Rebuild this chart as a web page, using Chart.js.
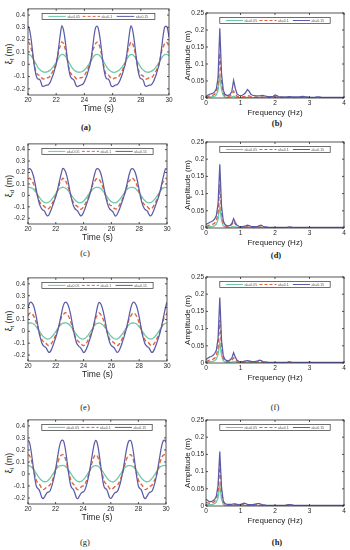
<!DOCTYPE html>
<html>
<head>
<meta charset="utf-8">
<script src="https://cdn.jsdelivr.net/npm/chart.js@4.4.1/dist/chart.umd.min.js"></script>
<style>
html,body{margin:0;padding:0;background:#fff;}
body{width:350px;height:550px;position:relative;overflow:hidden;}
canvas{position:absolute;}
.lab{position:absolute;font-family:"Liberation Serif","Times New Roman",serif;font-size:8.5px;color:#1a1a1a;transform:translate(-50%,-50%);white-space:nowrap;line-height:1;}
.lab.b{font-weight:bold;}
.yt{position:absolute;font-family:"Liberation Sans",Arial,sans-serif;font-size:8.5px;color:#1a1a1a;transform:translate(-50%,-50%) rotate(-90deg);white-space:nowrap;line-height:1;}
.yt sub{font-size:6px;vertical-align:-1.5px;}
</style>
</head>
<body>
<div class="yt" style="left:10px;top:54px">ξ<sub>f</sub> (m)</div>
<div class="yt" style="left:10px;top:186px">ξ<sub>d</sub> (m)</div>
<div class="yt" style="left:10px;top:321px">ξ<sub>t</sub> (m)</div>
<div class="yt" style="left:10px;top:463px">ξ<sub>l</sub> (m)</div>
<div class="lab b" style="left:86px;top:127px">(a)</div>
<div class="lab b" style="left:277px;top:123px">(b)</div>
<div class="lab" style="left:85px;top:253px">(c)</div>
<div class="lab b" style="left:276px;top:255px">(d)</div>
<div class="lab" style="left:85px;top:407px">(e)</div>
<div class="lab" style="left:275px;top:407px">(f)</div>
<div class="lab" style="left:85px;top:542px">(g)</div>
<div class="lab b" style="left:277px;top:542px">(h)</div>
<script>
// ---------- data ----------
const seriesLabels = ['ak=0.05', 'ak=0.1', 'ak=0.15'];

const timeS = [20,20.1,20.2,20.3,20.4,20.5,20.6,20.7,20.8,20.9,
21,21.1,21.2,21.3,21.4,21.5,21.6,21.7,21.8,21.9,
22,22.1,22.2,22.3,22.4,22.5,22.6,22.7,22.8,22.9,
23,23.1,23.2,23.3,23.4,23.5,23.6,23.7,23.8,23.9,
24,24.1,24.2,24.3,24.4,24.5,24.6,24.7,24.8,24.9,
25,25.1,25.2,25.3,25.4,25.5,25.6,25.7,25.8,25.9,
26,26.1,26.2,26.3,26.4,26.5,26.6,26.7,26.8,26.9,
27,27.1,27.2,27.3,27.4,27.5,27.6,27.7,27.8,27.9,
28,28.1,28.2,28.3,28.4,28.5,28.6,28.7,28.8,28.9,
29,29.1,29.2,29.3,29.4,29.5,29.6,29.7,29.8,29.9,
30];

const freqHz = [0,0.05,0.1,0.15,0.2,0.25,0.3,0.35,0.4,0.45,
0.5,0.55,0.6,0.65,0.7,0.75,0.8,0.85,0.9,0.95,
1,1.05,1.1,1.15,1.2,1.25,1.3,1.35,1.4,1.45,
1.5,1.55,1.6,1.65,1.7,1.75,1.8,1.85,1.9,1.95,
2,2.05,2.1,2.15,2.2,2.25,2.3,2.35,2.4,2.45,
2.5,2.55,2.6,2.65,2.7,2.75,2.8,2.85,2.9,2.95,
3,3.05,3.1,3.15,3.2,3.25,3.3,3.35,3.4,3.45,
3.5,3.55,3.6,3.65,3.7,3.75,3.8,3.85,3.9,3.95,
4];

const timeTicks = [20,22,24,26,28,30];
const timeTickLabels = ['20','22','24','26','28','30'];
const etaTicks = [-0.2,-0.1,0,0.1,0.2,0.3,0.4];
const etaTickLabels = ['-0.2','-0.1','0','0.1','0.2','0.3','0.4'];
const freqTicks = [0,1,2,3,4];
const freqTickLabels = ['0','1','2','3','4'];
const ampTicks = [0,0.05,0.1,0.15,0.2,0.25];
const ampTickLabels = ['0','0.05','0.1','0.15','0.2','0.25'];

// (a) time series
const a_green = [0.08,0.078,0.07,0.055,0.035,0.015,-0.005,-0.025,-0.04,-0.05,-0.058,-0.063,-0.065,-0.064,-0.06,-0.054,-0.045,-0.033,-0.018,-0.002,0.015,0.037,0.058,0.073,
0.081,0.079,0.071,0.056,0.036,0.016,-0.004,-0.024,-0.039,-0.05,-0.058,-0.063,-0.065,-0.064,-0.061,-0.055,-0.046,-0.034,-0.019,-0.003,0.014,0.034,0.054,0.069,0.078,
0.08,0.077,0.069,0.054,0.034,0.014,-0.006,-0.026,-0.041,-0.051,-0.059,-0.064,-0.066,-0.064,-0.06,-0.053,-0.044,-0.032,-0.017,-0.001,0.016,0.038,0.058,0.073,
0.08,0.078,0.07,0.055,0.035,0.015,-0.005,-0.025,-0.04,-0.05,-0.058,-0.063,-0.065,-0.064,-0.06,-0.054,-0.045,-0.033,-0.018,-0.002,0.015,0.035,0.055,0.07,0.078,
0.08,0.078,0.07];
const a_orange = [0.18,0.17,0.14,0.09,0.03,-0.03,-0.07,-0.085,-0.09,-0.1,-0.115,-0.12,-0.115,-0.11,-0.11,-0.105,-0.09,-0.07,-0.05,-0.02,0.01,0.06,0.12,0.15,
0.182,0.171,0.142,0.092,0.032,-0.028,-0.068,-0.084,-0.091,-0.099,-0.114,-0.121,-0.116,-0.111,-0.109,-0.104,-0.091,-0.072,-0.052,-0.022,0.007,0.055,0.115,0.143,0.17,
0.18,0.169,0.139,0.089,0.029,-0.031,-0.071,-0.086,-0.089,-0.101,-0.116,-0.12,-0.114,-0.11,-0.111,-0.104,-0.089,-0.069,-0.048,-0.018,0.012,0.062,0.122,0.152,
0.181,0.171,0.141,0.091,0.031,-0.029,-0.069,-0.085,-0.09,-0.1,-0.115,-0.12,-0.116,-0.11,-0.11,-0.105,-0.09,-0.071,-0.051,-0.021,0.008,0.058,0.118,0.144,0.171,
0.18,0.17,0.141];
const a_purple = [0.31,0.285,0.22,0.13,0.03,-0.05,-0.1,-0.12,-0.12,-0.14,-0.175,-0.18,-0.175,-0.17,-0.17,-0.16,-0.14,-0.11,-0.08,-0.04,0,0.07,0.16,0.25,
0.312,0.288,0.224,0.134,0.034,-0.046,-0.096,-0.116,-0.122,-0.138,-0.172,-0.181,-0.177,-0.171,-0.167,-0.161,-0.143,-0.114,-0.083,-0.043,-0.004,0.062,0.152,0.242,0.3,
0.31,0.284,0.218,0.128,0.028,-0.052,-0.101,-0.119,-0.121,-0.142,-0.176,-0.182,-0.176,-0.169,-0.168,-0.158,-0.137,-0.107,-0.077,-0.037,0.004,0.074,0.164,0.254,
0.311,0.287,0.222,0.132,0.032,-0.048,-0.098,-0.118,-0.12,-0.139,-0.174,-0.18,-0.176,-0.17,-0.169,-0.16,-0.141,-0.112,-0.081,-0.041,-0.002,0.066,0.156,0.246,0.302,
0.31,0.286,0.221];

// (c) time series
const c_green = [0.07,
0.07,0.068,0.062,0.052,0.038,0.022,0.004,-0.014,-0.03,-0.044,-0.055,-0.062,-0.065,-0.064,-0.058,-0.048,-0.035,-0.019,-0.002,0.016,0.034,0.05,0.062,0.068,
0.071,0.069,0.063,0.053,0.039,0.023,0.005,-0.013,-0.029,-0.043,-0.054,-0.061,-0.065,-0.064,-0.059,-0.049,-0.036,-0.02,-0.003,0.015,0.032,0.047,0.059,0.066,0.07,
0.07,0.068,0.062,0.052,0.038,0.022,0.004,-0.014,-0.03,-0.044,-0.055,-0.062,-0.066,-0.065,-0.059,-0.048,-0.035,-0.019,-0.002,0.016,0.033,0.048,0.06,0.067,0.07,
0.07,0.068,0.062,0.052,0.038,0.022,0.004,-0.014,-0.03,-0.044,-0.055,-0.062,-0.065,-0.064,-0.058,-0.048,-0.035,-0.019,-0.002,0.016,0.034,0.05,0.062,0.068,
0.07,0.068];
const c_orange = [0.145,
0.15,0.142,0.125,0.1,0.068,0.03,-0.01,-0.045,-0.07,-0.085,-0.09,-0.1,-0.115,-0.12,-0.115,-0.1,-0.08,-0.055,-0.03,0,0.03,0.07,0.115,0.128,
0.151,0.143,0.126,0.101,0.069,0.031,-0.009,-0.044,-0.069,-0.084,-0.091,-0.101,-0.116,-0.121,-0.114,-0.099,-0.079,-0.054,-0.029,0.001,0.029,0.067,0.114,0.124,0.144,
0.149,0.141,0.124,0.099,0.067,0.029,-0.011,-0.046,-0.071,-0.086,-0.089,-0.099,-0.114,-0.119,-0.116,-0.101,-0.081,-0.056,-0.031,-0.001,0.031,0.069,0.116,0.126,0.146,
0.15,0.142,0.125,0.1,0.068,0.03,-0.01,-0.045,-0.07,-0.085,-0.09,-0.1,-0.115,-0.12,-0.115,-0.1,-0.08,-0.055,-0.03,0,0.03,0.07,0.115,0.128,
0.15,0.142];
const c_purple = [0.225,
0.235,0.228,0.205,0.165,0.11,0.045,-0.015,-0.065,-0.1,-0.12,-0.13,-0.14,-0.165,-0.18,-0.17,-0.145,-0.115,-0.08,-0.045,-0.01,0.035,0.09,0.145,0.195,
0.236,0.229,0.206,0.166,0.112,0.047,-0.013,-0.063,-0.099,-0.119,-0.129,-0.141,-0.164,-0.179,-0.171,-0.146,-0.116,-0.081,-0.046,-0.011,0.034,0.084,0.139,0.189,0.226,
0.234,0.227,0.204,0.164,0.109,0.044,-0.016,-0.066,-0.101,-0.121,-0.131,-0.142,-0.166,-0.181,-0.169,-0.144,-0.114,-0.079,-0.044,-0.009,0.036,0.086,0.141,0.191,0.226,
0.235,0.228,0.205,0.165,0.11,0.045,-0.015,-0.065,-0.1,-0.12,-0.13,-0.14,-0.165,-0.18,-0.17,-0.145,-0.115,-0.08,-0.045,-0.01,0.035,0.09,0.145,0.195,
0.235,0.228];

// (e) time series
const e_green = [0.067,0.07,
0.07,0.068,0.062,0.052,0.038,0.022,0.004,-0.014,-0.03,-0.044,-0.055,-0.062,-0.065,-0.064,-0.058,-0.048,-0.035,-0.019,-0.002,0.016,0.033,0.048,0.06,0.067,0.07,
0.071,0.069,0.063,0.053,0.039,0.023,0.005,-0.013,-0.029,-0.043,-0.054,-0.061,-0.065,-0.064,-0.059,-0.049,-0.036,-0.02,-0.003,0.015,0.034,0.05,0.062,0.068,
0.07,0.068,0.062,0.052,0.038,0.022,0.004,-0.014,-0.03,-0.044,-0.055,-0.062,-0.066,-0.065,-0.059,-0.048,-0.035,-0.019,-0.002,0.016,0.033,0.048,0.06,0.067,0.07,
0.07,0.068,0.062,0.052,0.038,0.022,0.004,-0.014,-0.03,-0.044,-0.055,-0.062,-0.065,-0.064,-0.058,-0.048,-0.035,-0.019,-0.002,0.016,0.034,0.05,0.062,0.068,
0.07];
const e_orange = [0.13,0.15,
0.155,0.147,0.13,0.104,0.07,0.031,-0.009,-0.044,-0.07,-0.085,-0.09,-0.1,-0.115,-0.12,-0.115,-0.1,-0.08,-0.055,-0.03,0,0.03,0.07,0.118,0.13,0.15,
0.156,0.148,0.131,0.105,0.071,0.032,-0.008,-0.043,-0.069,-0.084,-0.091,-0.101,-0.116,-0.121,-0.114,-0.099,-0.079,-0.054,-0.029,0.001,0.032,0.074,0.12,0.133,
0.154,0.146,0.129,0.103,0.069,0.03,-0.01,-0.045,-0.071,-0.086,-0.089,-0.099,-0.114,-0.119,-0.116,-0.101,-0.081,-0.056,-0.031,-0.001,0.029,0.069,0.117,0.129,0.149,
0.155,0.147,0.13,0.104,0.07,0.031,-0.009,-0.044,-0.07,-0.085,-0.09,-0.1,-0.115,-0.12,-0.115,-0.1,-0.08,-0.055,-0.03,0,0.032,0.073,0.12,0.132,
0.155];
const e_purple = [0.2,0.235,
0.245,0.238,0.215,0.175,0.12,0.055,-0.01,-0.06,-0.1,-0.12,-0.13,-0.14,-0.16,-0.178,-0.172,-0.15,-0.12,-0.085,-0.05,-0.01,0.035,0.09,0.145,0.2,0.235,
0.246,0.239,0.216,0.176,0.121,0.056,-0.009,-0.059,-0.099,-0.119,-0.131,-0.141,-0.161,-0.179,-0.171,-0.149,-0.119,-0.084,-0.049,-0.009,0.038,0.095,0.152,0.207,
0.244,0.237,0.214,0.174,0.119,0.054,-0.011,-0.061,-0.101,-0.121,-0.129,-0.139,-0.159,-0.177,-0.173,-0.151,-0.121,-0.086,-0.051,-0.011,0.034,0.089,0.144,0.199,0.234,
0.245,0.238,0.215,0.175,0.12,0.055,-0.01,-0.06,-0.1,-0.12,-0.13,-0.14,-0.16,-0.178,-0.172,-0.15,-0.12,-0.085,-0.05,-0.01,0.037,0.094,0.15,0.205,
0.245];

// (g) time series
const g_green = [0.07,0.068,0.062,0.052,0.038,0.022,0.004,-0.014,-0.03,-0.044,-0.055,-0.062,-0.065,-0.064,-0.058,-0.048,-0.035,-0.019,-0.002,0.016,0.033,0.048,0.06,0.067,0.07,
0.071,0.069,0.063,0.053,0.039,0.023,0.005,-0.013,-0.029,-0.043,-0.054,-0.061,-0.065,-0.064,-0.059,-0.049,-0.036,-0.02,-0.003,0.015,0.034,0.05,0.062,0.068,
0.07,0.068,0.062,0.052,0.038,0.022,0.004,-0.014,-0.03,-0.044,-0.055,-0.062,-0.066,-0.065,-0.059,-0.048,-0.035,-0.019,-0.002,0.016,0.033,0.048,0.06,0.067,0.07,
0.07,0.068,0.062,0.052,0.038,0.022,0.004,-0.014,-0.03,-0.044,-0.055,-0.062,-0.065,-0.064,-0.058,-0.048,-0.035,-0.019,-0.002,0.016,0.033,0.048,0.06,0.067,0.07,
0.071,0.069];
const g_orange = [0.16,0.155,0.13,0.09,0.04,-0.01,-0.05,-0.075,-0.085,-0.1,-0.12,-0.13,-0.125,-0.115,-0.105,-0.1,-0.09,-0.07,-0.045,-0.01,0.03,0.07,0.11,0.14,0.155,
0.161,0.156,0.131,0.091,0.041,-0.009,-0.049,-0.074,-0.086,-0.101,-0.121,-0.131,-0.124,-0.114,-0.104,-0.099,-0.088,-0.067,-0.04,-0.004,0.037,0.078,0.118,0.146,
0.159,0.154,0.129,0.089,0.039,-0.011,-0.051,-0.076,-0.084,-0.099,-0.119,-0.129,-0.126,-0.116,-0.106,-0.101,-0.091,-0.071,-0.046,-0.011,0.029,0.069,0.109,0.139,0.154,
0.16,0.155,0.13,0.09,0.04,-0.01,-0.05,-0.075,-0.085,-0.1,-0.12,-0.13,-0.125,-0.115,-0.105,-0.1,-0.09,-0.07,-0.045,-0.01,0.03,0.07,0.11,0.14,0.155,
0.16,0.155];
const g_purple = [0.28,0.265,0.21,0.13,0.04,-0.04,-0.1,-0.12,-0.13,-0.16,-0.195,-0.205,-0.19,-0.17,-0.155,-0.15,-0.14,-0.11,-0.07,-0.02,0.04,0.11,0.18,0.24,0.275,
0.282,0.267,0.212,0.132,0.042,-0.038,-0.098,-0.119,-0.131,-0.161,-0.196,-0.206,-0.189,-0.169,-0.154,-0.149,-0.138,-0.107,-0.066,-0.014,0.048,0.12,0.19,0.248,
0.279,0.264,0.209,0.129,0.039,-0.041,-0.101,-0.121,-0.129,-0.159,-0.194,-0.204,-0.191,-0.171,-0.156,-0.151,-0.141,-0.111,-0.071,-0.021,0.039,0.109,0.179,0.239,0.274,
0.28,0.265,0.21,0.13,0.04,-0.04,-0.1,-0.12,-0.13,-0.16,-0.195,-0.205,-0.19,-0.17,-0.155,-0.15,-0.14,-0.11,-0.07,-0.02,0.04,0.11,0.18,0.24,0.275,
0.281,0.266];

// (b) spectra
const b_green = [0.001,0.002,0.003,0.003,0.004,0.005,0.009,0.022,0.065,0.024,
0.007,0.003,0.002,0.002,0.002,0.003,0.005,0.003,0.002,0.001,
0.001,0.001,0.001,0.002,0.002,0.002,0.001,0.001,0.001,0.001,
0.001,0.001,0.001,0.001,0.001,0.001,0.001,0.001,0.001,0.001,
0.001,0.001,0.001,0.001,0.001,0.001,0.001,0.001,0.001,0.001,
0.001,0.001,0.001,0.001,0.001,0.001,0.001,0.001,0.001,0.001,
0.001,0.001,0.001,0.001,0.001,0.001,0.001,0.001,0.001,0.001,
0.001,0.001,0.001,0.001,0.001,0.001,0.001,0.001,0.001,0.001,
0.001];
const b_orange = [0.002,0.004,0.006,0.007,0.008,0.011,0.017,0.04,0.132,0.05,
0.014,0.006,0.004,0.004,0.006,0.01,0.02,0.012,0.005,0.003,
0.003,0.003,0.004,0.005,0.007,0.006,0.004,0.003,0.002,0.002,
0.002,0.002,0.003,0.003,0.002,0.002,0.002,0.002,0.002,0.002,
0.003,0.003,0.002,0.002,0.001,0.001,0.001,0.001,0.002,0.002,
0.001,0.001,0.001,0.001,0.001,0.001,0.002,0.001,0.001,0.001,
0.001,0.001,0.001,0.001,0.001,0.001,0.001,0.001,0.001,0.001,
0.001,0.001,0.001,0.001,0.001,0.001,0.001,0.001,0.001,0.001,
0.001];
const b_purple = [0.004,0.008,0.011,0.012,0.014,0.018,0.027,0.06,0.205,0.072,
0.023,0.011,0.008,0.008,0.011,0.02,0.052,0.028,0.012,0.008,
0.007,0.008,0.011,0.016,0.025,0.02,0.011,0.008,0.007,0.006,
0.006,0.006,0.007,0.008,0.006,0.005,0.004,0.004,0.004,0.005,
0.009,0.007,0.004,0.003,0.003,0.003,0.003,0.003,0.004,0.004,
0.003,0.003,0.003,0.003,0.003,0.004,0.005,0.004,0.003,0.003,
0.002,0.002,0.002,0.002,0.003,0.003,0.003,0.002,0.002,0.002,
0.002,0.002,0.002,0.002,0.002,0.002,0.002,0.002,0.002,0.002,
0.002];

// (d) spectra
const d_green = [0.002,0.003,0.004,0.004,0.005,0.007,0.011,0.025,0.062,0.022,
0.006,0.003,0.002,0.002,0.002,0.003,0.004,0.003,0.002,0.001,
0.001,0.001,0.001,0.001,0.002,0.001,0.001,0.001,0.001,0.001,
0.001,0.001,0.001,0.001,0.001,0.001,0.001,0.001,0.001,0.001,
0.001,0.001,0.001,0.001,0.001,0.001,0.001,0.001,0.001,0.001,
0.001,0.001,0.001,0.001,0.001,0.001,0.001,0.001,0.001,0.001,
0.001,0.001,0.001,0.001,0.001,0.001,0.001,0.001,0.001,0.001,
0.001,0.001,0.001,0.001,0.001,0.001,0.001,0.001,0.001,0.001,
0.001];
const d_orange = [0.004,0.006,0.008,0.009,0.011,0.014,0.02,0.045,0.127,0.044,
0.013,0.006,0.004,0.004,0.006,0.01,0.02,0.011,0.005,0.003,
0.002,0.002,0.003,0.003,0.004,0.004,0.003,0.002,0.002,0.002,
0.002,0.003,0.003,0.002,0.002,0.001,0.001,0.001,0.001,0.001,
0.001,0.001,0.001,0.001,0.001,0.001,0.001,0.001,0.002,0.001,
0.001,0.001,0.001,0.001,0.001,0.001,0.001,0.001,0.001,0.001,
0.001,0.001,0.001,0.001,0.001,0.001,0.001,0.001,0.001,0.001,
0.001,0.001,0.001,0.001,0.001,0.001,0.001,0.001,0.001,0.001,
0.001];
const d_purple = [0.01,0.013,0.016,0.018,0.021,0.026,0.036,0.07,0.185,0.064,
0.021,0.01,0.007,0.006,0.008,0.013,0.027,0.016,0.008,0.005,
0.004,0.004,0.005,0.006,0.008,0.007,0.005,0.004,0.004,0.004,
0.005,0.007,0.008,0.005,0.003,0.003,0.002,0.002,0.002,0.002,
0.002,0.002,0.002,0.002,0.002,0.002,0.002,0.002,0.003,0.003,
0.002,0.002,0.002,0.002,0.002,0.002,0.002,0.002,0.002,0.002,
0.002,0.002,0.002,0.002,0.002,0.002,0.002,0.002,0.002,0.002,
0.002,0.002,0.002,0.002,0.002,0.002,0.002,0.002,0.002,0.002,
0.002];

// (f) spectra
const f_green = [0.002,0.003,0.004,0.004,0.005,0.007,0.011,0.025,0.06,0.022,
0.006,0.003,0.002,0.002,0.002,0.003,0.004,0.003,0.002,0.001,
0.001,0.001,0.001,0.001,0.002,0.001,0.001,0.001,0.001,0.001,
0.001,0.002,0.001,0.001,0.001,0.001,0.001,0.001,0.001,0.001,
0.001,0.001,0.001,0.001,0.001,0.001,0.001,0.001,0.001,0.001,
0.001,0.001,0.001,0.001,0.001,0.001,0.001,0.001,0.001,0.001,
0.001,0.001,0.001,0.001,0.001,0.001,0.001,0.001,0.001,0.001,
0.001,0.001,0.001,0.001,0.001,0.001,0.001,0.001,0.001,0.001,
0.001];
const f_orange = [0.004,0.006,0.008,0.009,0.011,0.014,0.02,0.045,0.125,0.044,
0.013,0.006,0.004,0.004,0.005,0.008,0.015,0.009,0.004,0.003,
0.002,0.002,0.003,0.003,0.004,0.004,0.003,0.002,0.002,0.002,
0.003,0.004,0.003,0.002,0.001,0.001,0.001,0.001,0.001,0.001,
0.001,0.001,0.001,0.001,0.001,0.001,0.001,0.001,0.002,0.001,
0.001,0.001,0.001,0.001,0.001,0.001,0.001,0.001,0.001,0.001,
0.001,0.001,0.001,0.001,0.001,0.001,0.001,0.001,0.001,0.001,
0.001,0.001,0.001,0.001,0.001,0.001,0.001,0.001,0.001,0.001,
0.001];
const f_purple = [0.01,0.014,0.017,0.019,0.022,0.027,0.037,0.072,0.19,0.066,
0.021,0.01,0.007,0.007,0.009,0.015,0.03,0.017,0.008,0.005,
0.004,0.004,0.005,0.006,0.007,0.006,0.005,0.004,0.004,0.005,
0.006,0.008,0.007,0.004,0.003,0.003,0.002,0.002,0.002,0.002,
0.002,0.002,0.002,0.002,0.002,0.002,0.002,0.002,0.003,0.003,
0.002,0.002,0.002,0.002,0.002,0.002,0.002,0.002,0.002,0.002,
0.003,0.002,0.002,0.002,0.002,0.002,0.002,0.002,0.002,0.002,
0.002,0.002,0.002,0.002,0.002,0.002,0.002,0.002,0.002,0.002,
0.002];

// (h) spectra
const h_green = [0.004,0.004,0.004,0.004,0.005,0.007,0.011,0.024,0.06,0.02,
0.005,0.002,0.001,0.001,0.001,0.001,0.002,0.002,0.001,0.001,
0.001,0.001,0.002,0.001,0.001,0.001,0.001,0.001,0.001,0.001,
0.001,0.002,0.001,0.001,0.001,0.001,0.001,0.001,0.001,0.001,
0.001,0.001,0.001,0.001,0.001,0.001,0.001,0.001,0.001,0.001,
0.001,0.001,0.001,0.001,0.001,0.001,0.001,0.001,0.001,0.001,
0.001,0.001,0.001,0.001,0.001,0.001,0.001,0.001,0.001,0.001,
0.001,0.001,0.001,0.001,0.001,0.001,0.001,0.001,0.001,0.001,
0.001];
const h_orange = [0.01,0.009,0.008,0.008,0.01,0.013,0.02,0.043,0.122,0.039,
0.011,0.005,0.003,0.003,0.003,0.003,0.004,0.004,0.003,0.003,
0.003,0.004,0.005,0.004,0.003,0.002,0.002,0.002,0.003,0.004,
0.004,0.003,0.002,0.002,0.001,0.001,0.001,0.001,0.001,0.001,
0.001,0.001,0.001,0.001,0.001,0.001,0.001,0.002,0.002,0.002,
0.001,0.001,0.001,0.001,0.001,0.001,0.001,0.001,0.001,0.001,
0.001,0.001,0.001,0.001,0.001,0.001,0.001,0.001,0.001,0.001,
0.001,0.001,0.001,0.001,0.001,0.001,0.001,0.001,0.001,0.001,
0.001];
const h_purple = [0.02,0.016,0.013,0.013,0.015,0.019,0.029,0.06,0.158,0.054,
0.015,0.007,0.005,0.005,0.005,0.005,0.006,0.006,0.005,0.004,
0.005,0.006,0.008,0.007,0.005,0.004,0.004,0.004,0.005,0.006,
0.007,0.007,0.005,0.003,0.003,0.002,0.002,0.002,0.002,0.002,
0.002,0.002,0.002,0.002,0.002,0.002,0.002,0.003,0.004,0.004,
0.003,0.002,0.002,0.002,0.002,0.002,0.002,0.002,0.002,0.002,
0.002,0.002,0.002,0.002,0.002,0.002,0.002,0.002,0.002,0.002,
0.002,0.002,0.002,0.002,0.002,0.002,0.002,0.002,0.002,0.002,
0.002];

// ---------- styling / layout ----------
const colors = ['#6cc9a9', '#e0653d', '#5b5ca8'];
const dashes = [[], [4, 2.5], []];
const widths = [1.3, 1.4, 1.25];
const FONT = '"Liberation Sans", Arial, Helvetica, sans-serif';

const panels = [
  {kind:'t', L:28,  R:169, T:8,   B:95,  ys:[a_green,a_orange,a_purple]},
  {kind:'f', L:206, R:344, T:13,  B:98,  ys:[b_green,b_orange,b_purple]},
  {kind:'t', L:28,  R:167, T:143, B:224, ys:[c_green,c_orange,c_purple]},
  {kind:'f', L:206, R:344, T:142, B:228, ys:[d_green,d_orange,d_purple]},
  {kind:'t', L:28,  R:167, T:277, B:361, ys:[e_green,e_orange,e_purple]},
  {kind:'f', L:206, R:344, T:277, B:363, ys:[f_green,f_orange,f_purple]},
  {kind:'t', L:28,  R:166, T:419, B:504, ys:[g_green,g_orange,g_purple]},
  {kind:'f', L:206, R:344, T:420, B:506, ys:[h_green,h_orange,h_purple]}
];

const framePlugin = {
  id: 'frame',
  afterDraw(chart) {
    const {ctx, chartArea: a, scales} = chart;
    ctx.save();
    ctx.strokeStyle = '#2b2b2b';
    ctx.lineWidth = 0.8;
    ctx.strokeRect(a.left, a.top, a.right - a.left, a.bottom - a.top);
    ctx.beginPath();
    scales.x.ticks.forEach(t => {
      const px = scales.x.getPixelForValue(t.value);
      ctx.moveTo(px, a.bottom); ctx.lineTo(px, a.bottom - 2);
      ctx.moveTo(px, a.top); ctx.lineTo(px, a.top + 2);
    });
    scales.y.ticks.forEach(t => {
      const py = scales.y.getPixelForValue(t.value);
      ctx.moveTo(a.left, py); ctx.lineTo(a.left + 2, py);
      ctx.moveTo(a.right, py); ctx.lineTo(a.right - 2, py);
    });
    ctx.stroke();
    ctx.restore();
  }
};

const boxLegend = {
  id: 'boxLegend',
  afterDatasetsDraw(chart) {
    const {ctx, chartArea: a} = chart;
    const w = a.right - a.left;
    const x0 = a.left + 0.1 * w, x1 = a.right - 0.1 * w;
    const bw = x1 - x0;
    const y0 = a.top + 4.5, h = 6;
    ctx.save();
    ctx.fillStyle = '#fff';
    ctx.fillRect(x0, y0, bw, h);
    ctx.strokeStyle = '#333';
    ctx.lineWidth = 0.7;
    ctx.strokeRect(x0, y0, bw, h);
    chart.data.datasets.forEach((ds, i) => {
      const lx = x0 + bw * 0.056 + i * bw * 0.303;
      const ly = y0 + h / 2;
      const ll = bw * 0.155;
      ctx.beginPath();
      ctx.setLineDash(ds.borderDash && ds.borderDash.length ? [3, 2] : []);
      ctx.strokeStyle = ds.borderColor;
      ctx.lineWidth = 1;
      ctx.moveTo(lx, ly); ctx.lineTo(lx + ll, ly);
      ctx.stroke();
      ctx.setLineDash([]);
      ctx.fillStyle = '#555';
      ctx.font = '3.5px ' + FONT;
      ctx.textBaseline = 'middle';
      ctx.textAlign = 'left';
      ctx.fillText(ds.label, lx + ll + 1.5, ly + 0.3);
    });
    ctx.restore();
  }
};

panels.forEach(p => {
  const isT = p.kind === 't';
  const cx = isT ? 0 : 175;
  const yW = p.L - cx;
  const padTop = 6, padRight = 8, xH = 22;
  const cw = yW + (p.R - p.L) + padRight;
  const ch = padTop + (p.B - p.T) + xH;
  const cv = document.createElement('canvas');
  cv.width = cw; cv.height = ch;
  cv.style.left = cx + 'px';
  cv.style.top = (p.T - padTop) + 'px';
  cv.style.width = cw + 'px';
  cv.style.height = ch + 'px';
  document.body.appendChild(cv);

  const xs = isT ? timeS : freqHz;
  const datasets = p.ys.map((ys, i) => ({
    label: seriesLabels[i],
    data: xs.map((x, k) => ({x: x, y: ys[k]})),
    borderColor: colors[i],
    backgroundColor: colors[i],
    borderWidth: widths[i],
    borderDash: dashes[i],
    pointRadius: 0,
    fill: false,
    tension: 0,
    cubicInterpolationMode: isT ? 'monotone' : 'default',
    order: 3 - i
  }));

  const xTicks = isT ? timeTicks : freqTicks;
  const xLabels = isT ? timeTickLabels : freqTickLabels;
  const yTicks = isT ? etaTicks : ampTicks;
  const yLabels = isT ? etaTickLabels : ampTickLabels;
  const xTitleFont = isT ? 8.5 : 8;
  const xTitleOff = isT ? 14 : 14.5;

  new Chart(cv, {
    type: 'line',
    data: {datasets},
    options: {
      responsive: false,
      animation: false,
      devicePixelRatio: 1,
      layout: {padding: {left: 0, top: padTop, right: padRight, bottom: 0}},
      plugins: {legend: {display: false}, tooltip: {enabled: false}},
      scales: {
        x: {
          type: 'linear',
          min: isT ? 20 : 0,
          max: isT ? 30 : 4,
          afterBuildTicks: s => { s.ticks = xTicks.map(v => ({value: v})); },
          afterFit: s => { s.height = xH; },
          grid: {display: false, drawTicks: false},
          border: {display: false},
          ticks: {
            autoSkip: false, maxRotation: 0, padding: isT ? 1 : 1.8,
            font: {family: FONT, size: 6.5}, color: '#2a2a2a',
            callback: (v, i) => xLabels[i]
          },
          title: {
            display: true, text: isT ? 'Time (s)' : 'Frequency (Hz)',
            font: {family: FONT, size: xTitleFont}, color: '#1a1a1a',
            padding: {top: 0, bottom: xH - xTitleFont * 0.6 - xTitleOff}
          }
        },
        y: {
          type: 'linear',
          min: isT ? -0.25 : 0,
          max: isT ? 0.45 : 0.25,
          afterBuildTicks: s => { s.ticks = yTicks.map(v => ({value: v})); },
          afterFit: s => { s.width = yW; },
          grid: {display: false, drawTicks: false},
          border: {display: false},
          ticks: {
            autoSkip: false, padding: isT ? 3 : 2,
            font: {family: FONT, size: 6.5}, color: '#2a2a2a',
            callback: (v, i) => yLabels[i]
          },
          title: {
            display: !isT, text: 'Amplitude (m)',
            font: {family: FONT, size: 8}, color: '#1a1a1a',
            padding: {top: 8, bottom: 0}
          }
        }
      }
    },
    plugins: [boxLegend, framePlugin]
  });
});
</script>
</body>
</html>
